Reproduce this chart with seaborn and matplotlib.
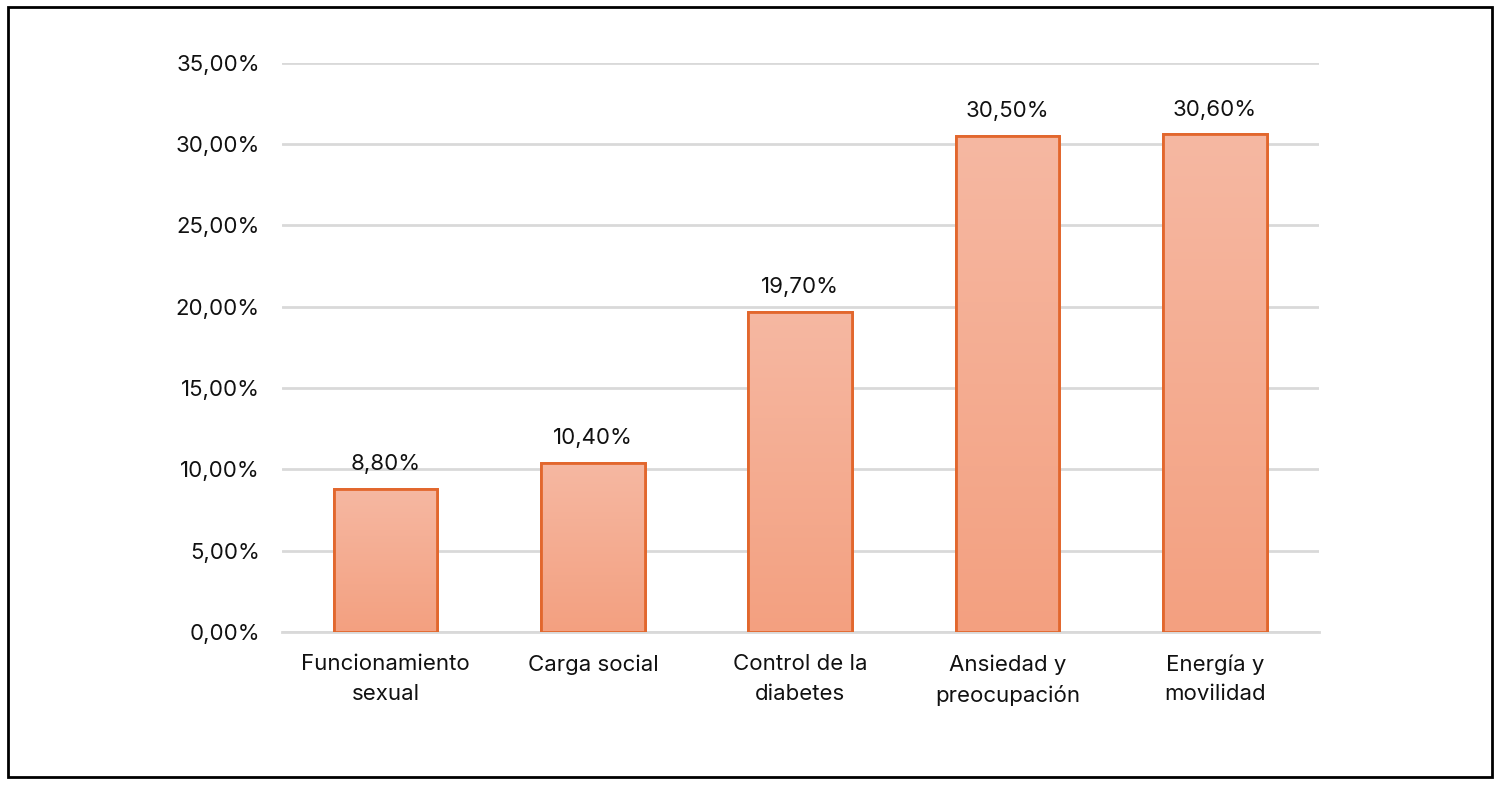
import matplotlib
matplotlib.use("Agg")
import matplotlib.pyplot as plt
import seaborn as sns
import numpy as np
import pandas as pd
from matplotlib.colors import LinearSegmentedColormap
from matplotlib.patches import Rectangle

categorias = ["Funcionamiento\nsexual", "Carga social", "Control de la\ndiabetes",
              "Ansiedad y\npreocupación", "Energía y\nmovilidad"]
valores = [0.088, 0.104, 0.197, 0.305, 0.306]
etiquetas = ["8,80%", "10,40%", "19,70%", "30,50%", "30,60%"]
yticks = [0, 0.05, 0.10, 0.15, 0.20, 0.25, 0.30, 0.35]

df = pd.DataFrame({"categoria": categorias, "valor": valores})

sns.set_style("white")
plt.rcParams["font.family"] = ["Inter", "DejaVu Sans"]

fig = plt.figure(figsize=(15, 7.85), dpi=100)
ax = fig.add_axes([0.188, 0.195, 0.691, 0.725])

sns.barplot(data=df, x="categoria", y="valor", color="#F4A687", width=0.5,
            edgecolor="#E2672D", linewidth=2, ax=ax, zorder=3)

# gradiente vertical dentro de cada barra
cmap = LinearSegmentedColormap.from_list("grad", ["#F3A080", "#F6B8A2"])
grad = np.linspace(0, 1, 256).reshape(-1, 1)
for bar in ax.patches:
    x0, y0 = bar.get_x(), bar.get_y()
    w, h = bar.get_width(), bar.get_height()
    im = ax.imshow(grad, extent=[x0, x0 + w, y0, y0 + h], origin="lower",
                   cmap=cmap, aspect="auto", zorder=3.5)
    im.set_clip_path(bar)
    ax.add_patch(Rectangle((x0, y0), w, h, fill=False, edgecolor="#E2672D",
                           linewidth=2, zorder=4))

for i, (v, t) in enumerate(zip(valores, etiquetas)):
    ax.text(i, v + 0.009, t, ha="center", va="bottom", fontsize=16, color="#111111")

ax.set_xlim(-0.5, 4.5)
ax.set_ylim(0, 0.35)
ax.set_yticks(yticks)
ax.set_yticklabels([f"{y*100:.2f}%".replace(".", ",") for y in yticks])
ax.yaxis.grid(True, color="#D9D9D9", linewidth=2)
ax.set_axisbelow(True)
for s in ["top", "right", "left"]:
    ax.spines[s].set_visible(False)
ax.spines["bottom"].set_color("#D9D9D9")
ax.spines["bottom"].set_linewidth(2)
ax.tick_params(axis="both", length=0, labelsize=16, colors="#111111")
ax.tick_params(axis="y", pad=16)
ax.tick_params(axis="x", pad=16)
for lab in ax.get_xticklabels():
    lab.set_linespacing(1.6)
ax.set_xlabel("")
ax.set_ylabel("")

# marco exterior
fig.patches.append(Rectangle((0.0055, 0.01), 0.989, 0.981, transform=fig.transFigure,
                             fill=False, edgecolor="black", linewidth=2))

plt.savefig("out.png", dpi=100)
